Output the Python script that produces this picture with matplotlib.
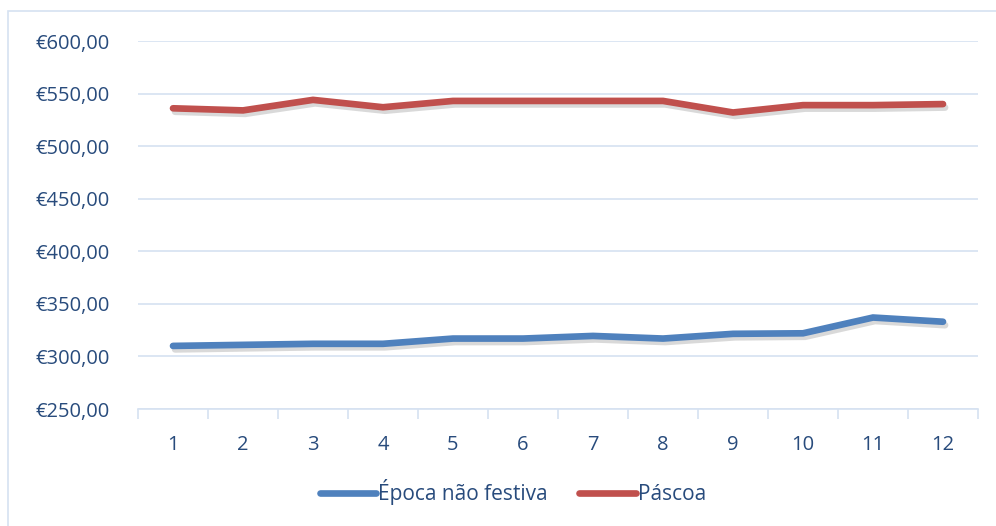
import matplotlib
matplotlib.use("Agg")
import matplotlib.pyplot as plt
import matplotlib.patheffects as pe
from matplotlib.patches import Rectangle
from matplotlib.ticker import FuncFormatter, MultipleLocator
import numpy as np

months = [1, 2, 3, 4, 5, 6, 7, 8, 9, 10, 11, 12]
epoca_nao_festiva = [310, 311, 312, 312, 317, 317, 319.5, 317, 321.5, 322, 337, 333]
pascoa = [536, 534, 544, 537, 543, 543, 543, 543, 532, 539, 539, 540]
series_names = ["Época não festiva", "Páscoa"]

TEXT = "#284B7C"
GRID = "#D6E2F1"
BLUE = "#4F81BD"
RED = "#C0504D"

plt.rcParams["font.family"] = ["Open Sans", "DejaVu Sans"]

fig = plt.figure(figsize=(9.96, 5.26), dpi=100)
fig.patches.append(Rectangle((8 / 996, -0.1), 1.2, 1 - 11 / 526 + 0.1,
                             transform=fig.transFigure, fill=False,
                             edgecolor=GRID, linewidth=1.2))

ax = fig.add_axes([138 / 996, 1 - 409 / 526, (978 - 138) / 996, (409 - 41) / 526])

shadow = [pe.SimpleLineShadow(offset=(1.5, -2.5), alpha=0.2, shadow_color="#444444"),
          pe.Normal()]
ax.plot(months, epoca_nao_festiva, color=BLUE, lw=4.8, solid_capstyle="round",
        solid_joinstyle="miter", label=series_names[0], path_effects=shadow, zorder=3)
ax.plot(months, pascoa, color=RED, lw=4.8, solid_capstyle="round",
        solid_joinstyle="miter", label=series_names[1], path_effects=shadow, zorder=3)

ax.set_xlim(0.5, 12.5)
ax.set_ylim(250, 600)
ax.yaxis.set_major_locator(MultipleLocator(50))
ax.yaxis.set_major_formatter(FuncFormatter(lambda v, p: "€{:.2f}".format(v).replace(".", ",")))
ax.set_xticks(months)
ax.set_xticks(np.arange(0.5, 13, 1), minor=True)

ax.grid(axis="y", color=GRID, linewidth=1.2)
ax.set_axisbelow(True)
for side in ["top", "right", "left"]:
    ax.spines[side].set_visible(False)
ax.spines["bottom"].set_color(GRID)
ax.spines["bottom"].set_linewidth(1.2)

ax.tick_params(axis="y", length=0, pad=20, labelsize=14.5, labelcolor=TEXT)
ax.tick_params(axis="x", which="major", length=0, pad=19, labelsize=14.5, labelcolor=TEXT)
ax.tick_params(axis="x", which="minor", length=7, width=1.2, color=GRID)

leg = fig.legend(loc="center", bbox_to_anchor=(0.515, 1 - 492 / 526), ncol=2,
                 frameon=False, fontsize=15, handlelength=2.7, handletextpad=0.1,
                 columnspacing=1.5, labelcolor=TEXT)
for line in leg.get_lines():
    line.set_linewidth(4.8)
    line.set_path_effects([])
    line.set_solid_capstyle("round")

fig.savefig("out.png", dpi=100, facecolor="white")
